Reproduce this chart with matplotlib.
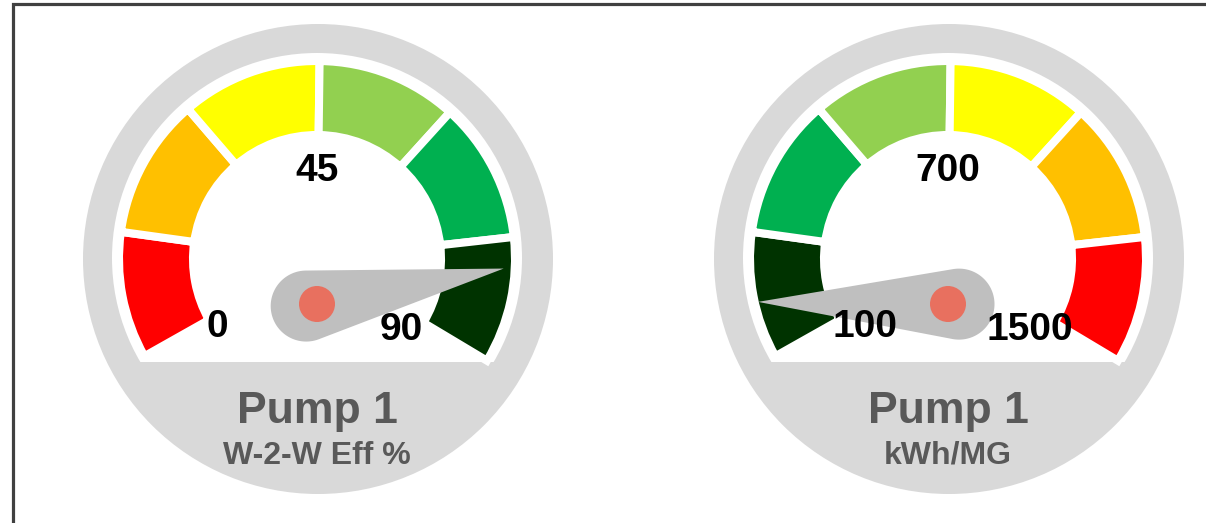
import numpy as np
import matplotlib.pyplot as plt
from matplotlib.patches import Circle, Wedge, Polygon, Rectangle

plt.rcParams['font.family'] = ['Liberation Sans', 'DejaVu Sans']

# gauge data
titles = ['Pump 1', 'Pump 1']
subtitles = ['W-2-W Eff %', 'kWh/MG']
ranges = [(0, 90), (100, 1500)]
min_labels = ['0', '100']
mid_labels = ['45', '700']
max_labels = ['90', '1500']
needle_values = [74.4, 275]
band_shares = [9, 10, 10, 10, 10, 9]
band_colors = [
    ['#FF0000', '#FFC000', '#FFFF00', '#92D050', '#00B050', '#003300'],
    ['#003300', '#00B050', '#92D050', '#FFFF00', '#FFC000', '#FF0000'],
]

# layout (pixels)
W, H = 1206, 523
centers_x = [317, 948]
cy = 259
pivot_y = 304
START, SWEEP = 209.4, 240.3
label_dx = [(-100, 84), (-83, 82)]

fig = plt.figure(figsize=(W / 100, H / 100), dpi=100)
ax = fig.add_axes([0, 0, 1, 1])
ax.set_xlim(0, W)
ax.set_ylim(H, 0)
ax.axis('off')

# frame
ax.plot([13, 13, W + 5], [H + 5, 4, 4], color='#404040', lw=2.3, clip_on=False,
        solid_joinstyle='miter')


def to_angle(v, lo, hi):
    return START - SWEEP * (v - lo) / (hi - lo)


for g in range(2):
    cx = centers_x[g]
    lo, hi = ranges[g]

    ax.add_patch(Circle((cx + 1, cy), 235, fc='#D9D9D9', ec='none'))
    white = Circle((cx, cy - 1), 205, fc='white', ec='none')
    ax.add_patch(white)
    clip = Rectangle((0, 0), W, 362, transform=ax.transData)
    white.set_clip_path(clip)

    cum = np.concatenate([[0], np.cumsum(band_shares)]) / sum(band_shares)
    for i, col in enumerate(band_colors[g]):
        a0 = START - SWEEP * cum[i]
        a1 = START - SWEEP * cum[i + 1]
        ax.add_patch(Wedge((cx, cy), 198, -a0, -a1, width=74, fc=col,
                           ec='white', lw=5.8))

    # needle
    ang = np.radians(to_angle(needle_values[g], lo, hi))
    d = np.array([np.cos(ang), -np.sin(ang)])
    p = np.array([cx, pivot_y])
    tip = p + 190 * d
    hub = p - 11 * d
    r = 35.5
    dist = np.hypot(*(tip - hub))
    beta = np.arccos(r / dist)
    phi = np.arctan2(*(tip - hub)[::-1])
    t = np.linspace(phi + beta, phi + 2 * np.pi - beta, 80)
    pts = [tip] + [hub + r * np.array([np.cos(a), np.sin(a)]) for a in t]
    ax.add_patch(Polygon(pts, closed=True, fc='#BFBFBF', ec='none'))
    ax.add_patch(Circle(p, 18, fc='#E8705F', ec='none'))

    # labels
    kw = dict(ha='center', va='baseline', fontsize=28, fontweight='bold', color='black')
    ax.text(cx + label_dx[g][0], 337, min_labels[g], **kw)
    ax.text(cx + label_dx[g][1], 340, max_labels[g], **kw)
    ax.text(cx, 181, mid_labels[g], **kw)

    ax.text(cx, 423, titles[g], ha='center', va='baseline', fontsize=32,
            fontweight='bold', color='#595959')
    ax.text(cx, 464, subtitles[g], ha='center', va='baseline', fontsize=23,
            fontweight='bold', color='#595959')

fig.savefig('out.png', dpi=100)
